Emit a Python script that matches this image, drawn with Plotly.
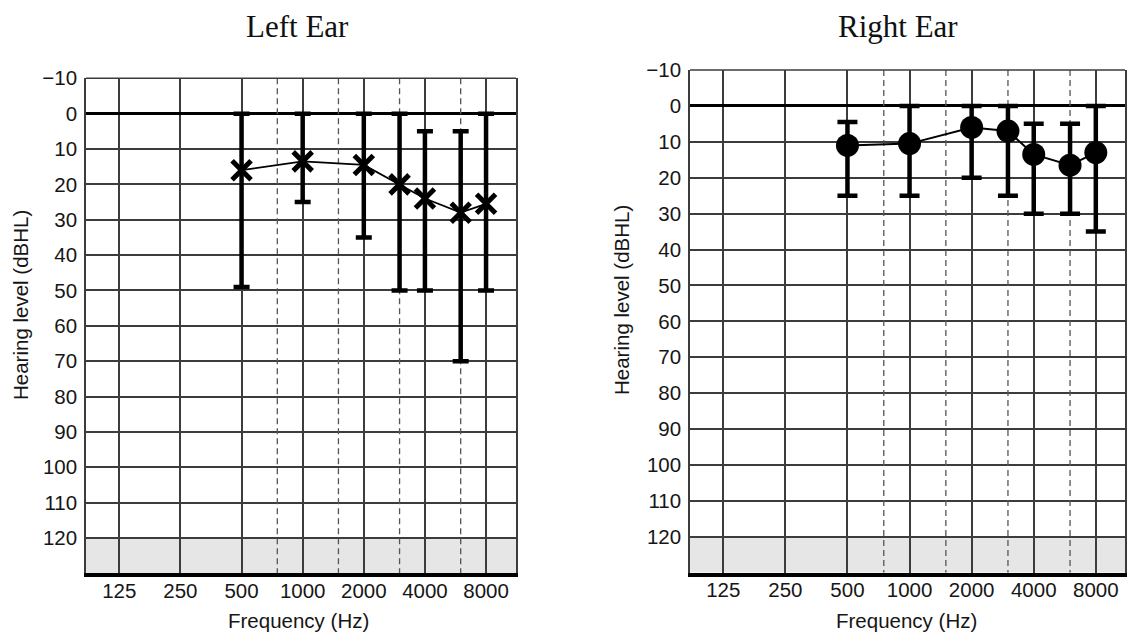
import math
import plotly.graph_objects as go

# ---------------- data ----------------
freq_ticks = [125, 250, 500, 1000, 2000, 4000, 8000]
freq_tick_labels = ["125", "250", "500", "1000", "2000", "4000", "8000"]
half_octave_freqs = [750, 1500, 3000, 6000]
level_ticks = [-10, 0, 10, 20, 30, 40, 50, 60, 70, 80, 90, 100, 110, 120]
level_tick_labels = ["\u221210", "0", "10", "20", "30", "40", "50", "60",
                     "70", "80", "90", "100", "110", "120"]

test_freqs = [500, 1000, 2000, 3000, 4000, 6000, 8000]

left_threshold = [16, 13.5, 14.5, 20, 24, 28, 25.5]
left_range_low = [0, 0, 0, 0, 5, 5, 0]
left_range_high = [49, 25, 35, 50, 50, 70, 50]

right_threshold = [11, 10.5, 6, 7, 13.5, 16.5, 13]
right_range_low = [4.5, 0, 0, 0, 5, 5, 0]
right_range_high = [25, 25, 20, 25, 30, 30, 35]

# ---------------- styling ----------------
W, H = 1128, 633
SANS = "Liberation Sans, Arial, sans-serif"
SERIF = "Liberation Serif, Times New Roman, serif"
GRID = "#3c3c3c"
TXT = "#161616"
TICK_SIZE = 20.5
TITLE_SIZE = 20.5

fig = go.Figure()


def dashed_trace(xa, ya):
    xs, ys = [], []
    for f in half_octave_freqs:
        xs += [f, f, None]
        ys += [-10, 130, None]
    return go.Scatter(x=xs, y=ys, mode="lines", xaxis=xa, yaxis=ya,
                      line=dict(color="#555555", width=1.3, dash="6px,4px"),
                      hoverinfo="skip", showlegend=False)


fig.add_trace(dashed_trace("x", "y"))
fig.add_trace(dashed_trace("x2", "y2"))

# Left ear (X markers)
fig.add_trace(go.Scatter(
    x=test_freqs, y=left_threshold, mode="lines+markers",
    xaxis="x", yaxis="y", showlegend=False,
    line=dict(color="black", width=1.8),
    marker=dict(symbol="x-thin", size=19, color="black",
                line=dict(color="black", width=5)),
    error_y=dict(type="data", symmetric=False,
                 array=[h - t for h, t in zip(left_range_high, left_threshold)],
                 arrayminus=[t - l for t, l in zip(left_threshold, left_range_low)],
                 color="black", thickness=4.5, width=8),
))

# Right ear (filled circles)
fig.add_trace(go.Scatter(
    x=test_freqs, y=right_threshold, mode="lines+markers",
    xaxis="x2", yaxis="y2", showlegend=False,
    line=dict(color="black", width=2),
    marker=dict(symbol="circle", size=23, color="black"),
    error_y=dict(type="data", symmetric=False,
                 array=[h - t for h, t in zip(right_range_high, right_threshold)],
                 arrayminus=[t - l for t, l in zip(right_threshold, right_range_low)],
                 color="black", thickness=4.5, width=10),
))

log2 = math.log10(2)
left_xrange = [math.log10(125) - 0.545 * log2, math.log10(8000) + 0.49 * log2]
right_xrange = [math.log10(125) - 0.536 * log2, math.log10(8000) + 0.47 * log2]


def xaxis(domain, rng, anchor):
    return dict(domain=domain, type="log", range=rng, anchor=anchor,
                tickmode="array", tickvals=freq_ticks, ticktext=freq_tick_labels,
                showgrid=True, gridcolor=GRID, gridwidth=1.6,
                showline=True, linecolor="black", linewidth=3.5, mirror=False,
                ticks="", ticklabelstandoff=-4,
                tickfont=dict(family=SANS, size=TICK_SIZE, color=TXT),
                zeroline=False, fixedrange=True)


def yaxis(domain, anchor):
    return dict(domain=domain, range=[130, -10], anchor=anchor,
                tickmode="array", tickvals=level_ticks, ticktext=level_tick_labels,
                showgrid=True, gridcolor=GRID, gridwidth=1.6,
                zeroline=True, zerolinecolor="black", zerolinewidth=3,
                showline=True, linecolor=GRID, linewidth=1.6, mirror=True,
                ticks="outside", ticklen=3, tickcolor="rgba(0,0,0,0)",
                tickfont=dict(family=SANS, size=TICK_SIZE, color=TXT),
                fixedrange=True)


L_X = [86 / W, 516 / W]
R_X = [690 / W, 1125 / W]
L_Y = [1 - 573.3 / H, 1 - 78.3 / H]
R_Y = [1 - 572.7 / H, 1 - 70 / H]

shapes = []
for xr, yr in (("x", "y"), ("x2", "y2")):
    shapes.append(dict(type="rect", xref=f"{xr} domain", yref=yr,
                       x0=0, x1=1, y0=120, y1=130, layer="below",
                       fillcolor="#e6e6e6", line=dict(width=0)))
    shapes.append(dict(type="line", xref=f"{xr} domain", yref=f"{yr} domain",
                       x0=0, x1=1, y0=1, y1=1, layer="above",
                       line=dict(color=GRID, width=1.6)))

annotations = [
    dict(text="Left Ear", x=297 / W, y=1 - 27 / H, xref="paper", yref="paper",
         showarrow=False, font=dict(family=SERIF, size=31, color="#111111"),
         xanchor="center", yanchor="middle"),
    dict(text="Right Ear", x=898 / W, y=1 - 27 / H, xref="paper", yref="paper",
         showarrow=False, font=dict(family=SERIF, size=31, color="#111111"),
         xanchor="center", yanchor="middle"),
    dict(text="Frequency (Hz)", x=298 / W, y=1 - 620 / H, xref="paper", yref="paper",
         showarrow=False, font=dict(family=SANS, size=TITLE_SIZE, color=TXT),
         xanchor="center", yanchor="middle"),
    dict(text="Frequency (Hz)", x=906 / W, y=1 - 620 / H, xref="paper", yref="paper",
         showarrow=False, font=dict(family=SANS, size=TITLE_SIZE, color=TXT),
         xanchor="center", yanchor="middle"),
    dict(text="Hearing level (dBHL)", x=20 / W, y=1 - 305 / H, xref="paper", yref="paper",
         showarrow=False, textangle=-90, font=dict(family=SANS, size=TITLE_SIZE, color=TXT),
         xanchor="center", yanchor="middle"),
    dict(text="Hearing level (dBHL)", x=621 / W, y=1 - 300 / H, xref="paper", yref="paper",
         showarrow=False, textangle=-90, font=dict(family=SANS, size=TITLE_SIZE, color=TXT),
         xanchor="center", yanchor="middle"),
]

fig.update_layout(
    width=W, height=H,
    margin=dict(l=0, r=0, t=0, b=0, autoexpand=False),
    paper_bgcolor="white", plot_bgcolor="white",
    showlegend=False,
    xaxis=xaxis(L_X, left_xrange, "y"),
    yaxis=yaxis(L_Y, "x"),
    xaxis2=xaxis(R_X, right_xrange, "y2"),
    yaxis2=yaxis(R_Y, "x2"),
    shapes=shapes,
    annotations=annotations,
)

fig.write_html(
    "out.html",
    config={"displayModeBar": False},
    post_script="document.body.style.margin='0';document.body.style.overflow='hidden';",
)
